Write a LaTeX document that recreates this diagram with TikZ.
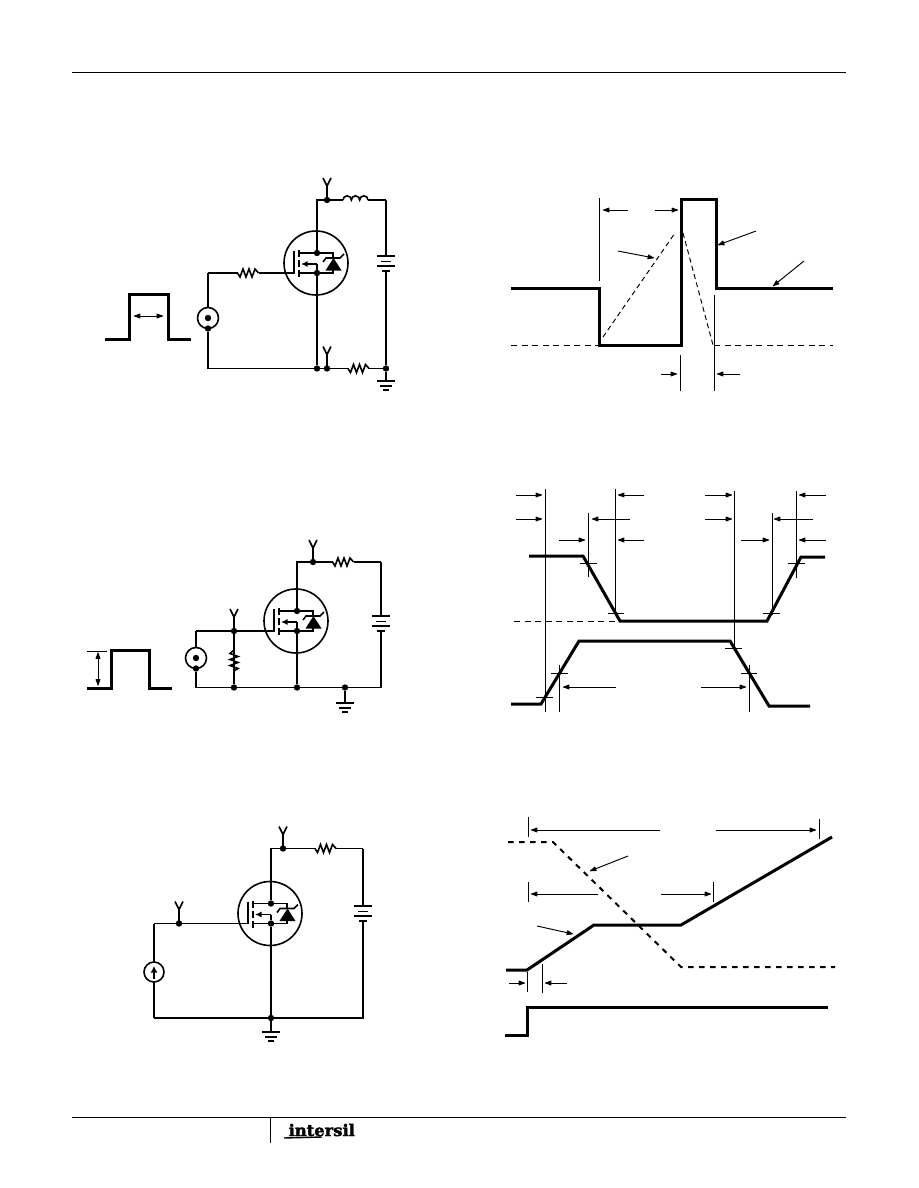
\documentclass[tikz,border=0pt]{standalone}
\usepackage{fontspec}
\usetikzlibrary{arrows.meta}
\newfontfamily\logofont[FakeBold=2.2]{DejaVu Serif}
\tikzset{
  x=1pt,y=-1pt,
  wire/.style={line width=1.6pt,line join=miter},
  wave/.style={line width=3pt,line join=miter},
  thinline/.style={line width=0.95pt},
  thindash/.style={line width=0.95pt,dash pattern=on 6pt off 4.5pt},
  thickdash/.style={line width=2pt,dash pattern=on 5.5pt off 5.5pt},
  blob/.tip={Latex[length=8pt,width=5.6pt,round]},
  dimarrow/.style={line width=0.95pt,-{blob}},
  dot/.style={circle,fill=black,draw=none,inner sep=0pt,minimum size=6.4pt},
  mos/.pic={
    \draw[wire] (-1,1) circle[radius=32];
    \node[dot] (-d) at (0,-9) {};
    \node[dot] (-s) at (0,11) {};
    \coordinate (-g) at (-23,11);
    \draw[wire] (-23,-11) -- (-23,11.8);
    \draw[wire] (-18,-12) -- (-18,-5) (-18,-2) -- (-18,5) (-18,8) -- (-18,15);
    \draw[wire] (-18,-9) -- (-d) (-18,11) -- (-s);
    \draw[wire,-{Latex[length=6.5pt,width=6pt]}] (0,2) -- (-16,2);
    \draw[wire] (0,2) -- (-s);
    \draw[wire] (-d) -- (16,-9) -- (16,-4);
    \draw[wire] (-s) -- (16,11) -- (16,8);
    \fill (8.5,8.5) -- (24.5,8.5) -- (16.5,-4) -- cycle;
    \draw[wire] (6,0) -- (9,-4) -- (23,-4) -- (27,-8);
  },
  resistor/.pic={
    \coordinate (-a) at (-10.5,0);
    \coordinate (-b) at (10.5,0);
    \draw[wire] (-a) -- (-8,4) -- (-5,-4) -- (-2,4) -- (1,-4) -- (4,4) -- (7,-4) -- (-b);
  },
  battery/.pic={
    \coordinate (-t) at (0,0);
    \coordinate (-b) at (0,15);
    \draw[wire] (-9,0) -- (9,0) (-5,5.5) -- (5,5.5) (-9,10) -- (9,10) (-4,15) -- (4,15);
  },
  earth/.pic={
    \coordinate (-t) at (0,0);
    \draw[wire] (-9,0) -- (9,0) (-6,5) -- (6,5) (-3,9) -- (3,9);
  },
  yterm/.pic={
    \draw[wire] (0,0) -- (0,-14) -- (-4,-22) (0,-14) -- (4,-22);
  },
  vsrc/.pic={
    \draw[wire] (0,0) circle[radius=10.5];
    \node[dot] at (0,0) {};
    \coordinate (-t) at (0,-10.5);
    \node[dot] (-b) at (0,10.5) {};
  },
  isrc/.pic={
    \draw[wire] (0,0) circle[radius=10];
    \coordinate (-t) at (0,-10);
    \coordinate (-b) at (0,10);
    \draw[wire,-{Latex[length=6.5pt,width=7pt]}] (0,7) -- (0,-6);
  },
}
\begin{document}
\begin{tikzpicture}
\useasboundingbox (0,0) rectangle (918,1188);
% page rules
\draw[thinline] (72,72) -- (846,72);
\draw[thinline] (72,1117) -- (846,1117);
\draw[thinline] (270,1117) -- (270,1143);
\node[inner sep=0pt,anchor=base west,xscale=1.02] (logo) at (288.5,1136) {\logofont\bfseries\fontsize{16}{16}\selectfont intersil};
\draw[line width=1.4pt] (284,1138) -- (322,1137);

% ---------- circuit 1
\pic (m1) at (317,262) {mos};
\node[dot] (a1) at (327,200) {};
\coordinate (a0) at (317,200);
\coordinate (a2) at (386,200);
\pic at (a1) {yterm};
\coordinate (L1) at (343,200);
\coordinate (L2) at (368,200);
\draw[wire] (m1-d) -- (a0) -- (a1) -- (L1);
\draw[wire] (L1) arc[start angle=180,end angle=360,radius=4.17] arc[start angle=180,end angle=360,radius=4.17] arc[start angle=180,end angle=360,radius=4.17];
\draw[wire] (L2) -- (a2);
\pic (b1) at (386,256) {battery};
\draw[wire] (a2) -- (b1-t);
\node[dot] (a3) at (386,368.5) {};
\draw[wire] (b1-b) -- (a3);
\pic (g1) at (386,381) {earth};
\draw[wire] (a3) -- (g1-t);
\pic (r1) at (248,273) {resistor};
\coordinate (a4) at (208,273);
\draw[wire] (m1-g) -- (r1-b);
\draw[wire] (r1-a) -- (a4);
\pic (v1) at (208,318) {vsrc};
\draw[wire] (a4) -- (v1-t);
\coordinate (a5) at (208,368.5);
\node[dot] (a6) at (317,368.5) {};
\node[dot] (a7) at (327,368.5) {};
\pic at (a7) {yterm};
\pic (r2) at (358.5,368.5) {resistor};
\draw[wire] (v1-b) -- (a5) -- (a6) -- (a7) -- (r2-a);
\draw[wire] (r2-b) -- (a3);
\draw[wire] (m1-s) -- (a6);
\draw[wave] (105,339) -- (129.5,339) -- (129.5,294) -- (168,294) -- (168,339) -- (191,339);
\draw[thinline,{blob}-{blob}] (134,316) -- (163,316);

% ---------- waveform A
\draw[wave] (511,288) -- (599,288) -- (599,345) -- (681,345) -- (681,199.5) -- (716,199.5) -- (716,288) -- (833,288);
\draw[thindash] (511,345) -- (599,345) (714,345) -- (833,345);
\draw[thindash,dash pattern=on 5pt off 3.5pt] (603,337) -- (675,233);
\draw[thindash,dash pattern=on 5pt off 3.5pt] (683,233) -- (713,345);
\draw[thinline] (599,198) -- (599,281);
\draw[thinline] (714,295) -- (714,391);
\draw[thinline] (680,355) -- (680,391);
\draw[dimarrow] (628,210) -- (603,210);
\draw[dimarrow] (655,210) -- (678,210);
\draw[dimarrow] (661,374) -- (677,374);
\draw[dimarrow] (740,374) -- (717,374);
\draw[dimarrow] (618,251) -- (654,258);
\draw[dimarrow] (756,231) -- (718,245);
\draw[dimarrow] (804,261) -- (773,286);

% ---------- circuit 2
\pic (m2) at (297,620) {mos};
\node[dot] (c1) at (313,562) {};
\coordinate (c0) at (297,562);
\coordinate (c2) at (381,562);
\pic at (c1) {yterm};
\pic (r3) at (343,562) {resistor};
\draw[wire] (m2-d) -- (c0) -- (c1) -- (r3-a);
\draw[wire] (r3-b) -- (c2);
\pic (b2) at (381,616) {battery};
\draw[wire] (c2) -- (b2-t);
\coordinate (c3) at (381,687.5);
\draw[wire] (b2-b) -- (c3);
\node[dot] (c4) at (345,687.5) {};
\node[dot] (c5) at (297,687.5) {};
\node[dot] (c6) at (234,687.5) {};
\coordinate (c7) at (196,687.5);
\draw[wire] (c3) -- (c4) -- (c5) -- (c6) -- (c7);
\draw[wire] (m2-s) -- (c5);
\pic (g2) at (345,703) {earth};
\draw[wire] (c4) -- (g2-t);
\node[dot] (c8) at (234,631) {};
\pic at (c8) {yterm};
\coordinate (c9) at (196,631);
\draw[wire] (m2-g) -- (c8) -- (c9);
\pic (v2) at (196,658) {vsrc};
\draw[wire] (c9) -- (v2-t);
\draw[wire] (v2-b) -- (c7);
\pic[rotate=90] (r4) at (234,660.5) {resistor};
\draw[wire] (c8) -- (r4-a);
\draw[wire] (r4-b) -- (c6);
\draw[wave] (87,688) -- (111,688) -- (111,650.5) -- (149,650.5) -- (149,688) -- (172,688);
\draw[thinline] (87,651) -- (107,651);
\draw[thinline,{blob}-{blob}] (98,652.5) -- (98,685.5);

% ---------- waveform B
\draw[thinline] (545,489) -- (545,712) (588,513) -- (588,577) (615,489) -- (615,615)
  (734,491) -- (734,650) (796,491) -- (796,578) (772,513) -- (772,615)
  (559,665) -- (559,712) (749,665) -- (749,712);
\foreach \a/\b/\y in {516/542/495,644/618/495,705/732/495,826/799/495,
  516/542/519,630/592/519,705/732/519,813/774/519,
  559/585/540,644/618/540,741/769/540,826/799/540,
  616/563/687,701/746/687}
  \draw[dimarrow] (\a,\y) -- (\b,\y);
\draw[wave] (529,556) -- (583,556) -- (620,621) -- (767,621) -- (801,557) -- (825,557);
\draw[thindash] (514,621) -- (615,621);
\draw[wave] (511,704) -- (541,704) -- (579,641) -- (730,641) -- (769,706) -- (810,706);
\draw[thinline] (580,563) -- (597,563) (608,613) -- (624,613) (763,613) -- (780,613) (788,563) -- (805,563)
  (725,648) -- (742,648) (551,673) -- (568,673) (741,673) -- (757,673) (536,697) -- (553,697);

% ---------- circuit 3
\pic (m3) at (271,912.5) {mos};
\node[dot] (e1) at (283,848.5) {};
\coordinate (e0) at (271,848.5);
\coordinate (e2) at (363,848.5);
\pic at (e1) {yterm};
\pic (r5) at (325.5,848.5) {resistor};
\draw[wire] (m3-d) -- (e0) -- (e1) -- (r5-a);
\draw[wire] (r5-b) -- (e2);
\pic (b3) at (363,906) {battery};
\draw[wire] (e2) -- (b3-t);
\node[dot] (e3) at (271,1018) {};
\coordinate (e4) at (363,1018);
\coordinate (e5) at (154,1018);
\draw[wire] (b3-b) -- (e4) -- (e3) -- (e5);
\draw[wire] (m3-s) -- (e3);
\pic (g3) at (271,1032) {earth};
\draw[wire] (e3) -- (g3-t);
\node[dot] (e6) at (179,923.5) {};
\pic at (e6) {yterm};
\coordinate (e7) at (154,923.5);
\draw[wire] (m3-g) -- (e6) -- (e7);
\pic (i1) at (154,972) {isrc};
\draw[wire] (e7) -- (i1-t);
\draw[wire] (i1-b) -- (e5);

% ---------- waveform C
\draw[thinline] (528,817) -- (528,837) (819,819) -- (819,839) (528,882) -- (528,902) (713,882) -- (713,902)
  (527,972) -- (527,992) (542,964) -- (542,993);
\draw[dimarrow] (660,830) -- (531,830);
\draw[dimarrow] (716,830) -- (816,830);
\draw[dimarrow] (598,894) -- (531,894);
\draw[dimarrow] (661,894) -- (711,894);
\draw[dimarrow] (509,983) -- (525,983);
\draw[dimarrow] (567,983) -- (545,983);
\draw[dimarrow] (628,856) -- (590,871);
\draw[dimarrow] (537,926) -- (573,934);
\draw[thickdash] (508,842) -- (553,842) -- (681,967) -- (835,967);
\draw[wave] (506,970) -- (527,970) -- (594,925) -- (681,925) -- (832,837);
\draw[wave] (505,1035) -- (527,1035) -- (527,1007) -- (828,1007);
\end{tikzpicture}
\end{document}
